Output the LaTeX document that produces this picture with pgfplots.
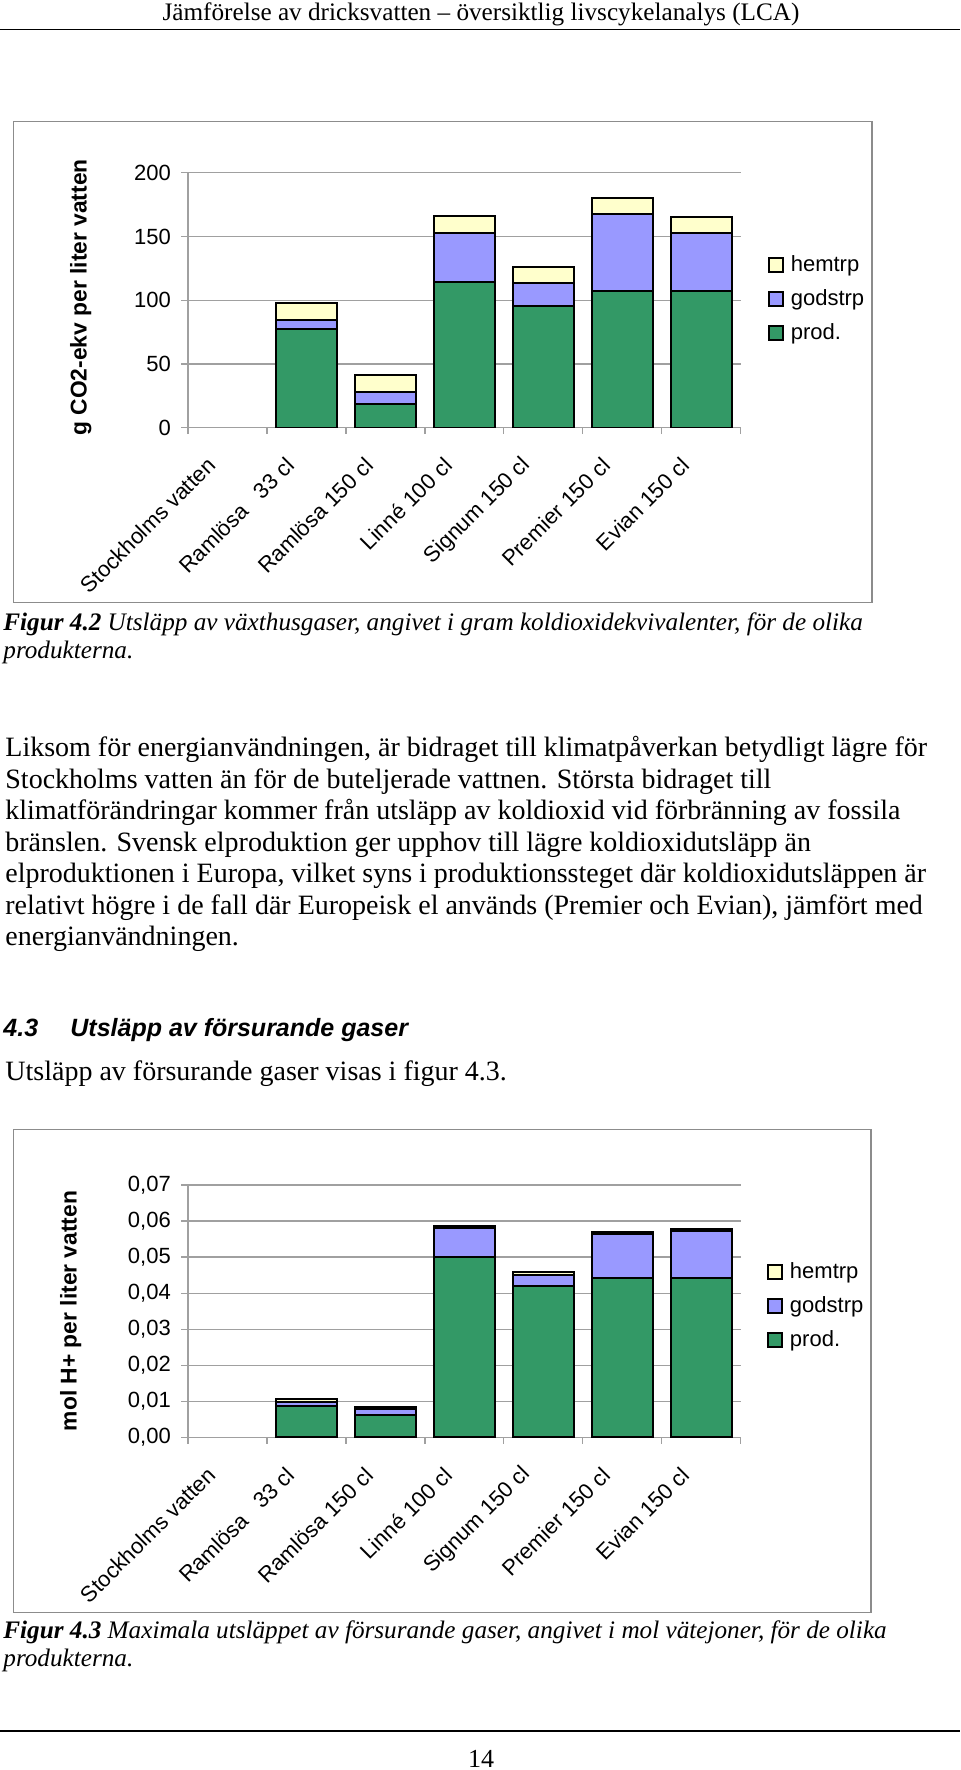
\documentclass[border=0pt]{standalone}
\usepackage{fontspec}
\setmainfont{Liberation Serif}
\setsansfont{Liberation Sans}
\usepackage{pgfplots}
\pgfplotsset{compat=1.18}

\definecolor{prodc}{RGB}{51,153,102}
\definecolor{godsc}{RGB}{153,153,255}
\definecolor{hemc}{RGB}{255,255,204}
\definecolor{gridc}{RGB}{160,160,160}
\definecolor{framec}{RGB}{140,140,140}

\newcommand{\bodyfont}{\fontsize{14}{16}\selectfont}
\newcommand{\capfont}{\fontsize{12.6}{14}\selectfont\itshape}

\pgfplotsset{
  sqlegend/.style={legend image code/.code={%
    \draw[##1,/tikz/.cd,draw=black,line width=0.9pt] (0pt,-3.5pt) rectangle (7pt,3.5pt);}},
  excel/.style={
    scale only axis, width=276.4pt,
    ybar stacked, bar width=0.765,
    xmin=-0.5, xmax=6.5, ymin=0,
    axis x line*=bottom, axis y line*=left,
    axis line style={-, draw=gridc, line width=0.6pt},
    ymajorgrids, grid style={draw=gridc, line width=0.6pt},
    tick align=outside,
    xtick={0,...,6},
    xticklabels={Stockholms vatten, Ramlösa\hspace{6pt} 33 cl, Ramlösa 150 cl,
      Linné 100 cl, Signum 150 cl, Premier 150 cl, Evian 150 cl},
    minor xtick={-0.5,0.5,...,6.5},
    major x tick style={draw=none},
    minor x tick style={draw=gridc, line width=0.6pt},
    minor tick length=3.2pt,
    ytick style={draw=gridc, line width=0.6pt},
    major tick length=3.4pt,
    tick label style={font=\fontsize{11}{13}\sffamily},
    /pgf/number format/assume math mode=true,
    scaled y ticks=false,
    xticklabel style={inner sep=0pt, yshift=-13.5pt, xshift=-8pt, rotate=45, anchor=east},
    yticklabel style={inner sep=0pt, anchor=east, xshift=-5pt},
    ylabel style={font=\fontsize{11.4}{13}\sffamily\bfseries, anchor=center},
    legend style={draw=none, fill=none, inner sep=0pt, anchor=north west,
      row sep=7.5pt, font=\fontsize{11}{13}\sffamily, nodes={inner sep=0pt},
      /tikz/every odd column/.append style={column sep=3.5pt}},
    legend cell align=left, reverse legend,
  }
}

\begin{document}
\begin{tikzpicture}
\path[use as bounding box] (0,0) rectangle (480pt,885pt);

% page header
\node[anchor=base, inner sep=0pt, font=\fontsize{12.6}{14}\selectfont] at (240.5pt,874.75pt)
  {Jämförelse av dricksvatten – översiktlig livscykelanalys (LCA)};
\draw[line width=0.75pt] (0pt,870.25pt) -- (480pt,870.25pt);

% figure 4.2
\draw[framec, line width=0.6pt] (6.75pt,583.65pt) rectangle (436pt,824.15pt);
\begin{axis}[excel,
    at={(94pt,671.15pt)}, anchor=south west, height=127.5pt,
    ymax=200, ytick={0,50,100,150,200},
    ylabel={g CO2-ekv per liter vatten},
    ylabel style={at={(axis description cs:-0.194,0.511)}},
    legend style={at={(1.0485,0.677)}}]
  \addplot[fill=prodc, draw=black, line width=1pt, sqlegend]
    coordinates {(1,77.4) (2,18.6) (3,114.5) (4,95.7) (5,106.9) (6,106.9)};
  \addplot[fill=godsc, draw=black, line width=1pt, sqlegend]
    coordinates {(1,7.3) (2,9.4) (3,38.4) (4,17.8) (5,60.7) (6,45.8)};
  \addplot[fill=hemc, draw=black, line width=1pt, sqlegend]
    coordinates {(1,13.3) (2,13.3) (3,13.1) (4,12.8) (5,12.8) (6,12.8)};
  \legend{prod., godstrp, hemtrp}
\end{axis}

\node[anchor=base west, inner sep=0pt, font=\capfont] at (1.5pt,569.5pt)
  {\textbf{Figur 4.2} Utsläpp av växthusgaser, angivet i gram koldioxidekvivalenter, för de olika};
\node[anchor=base west, inner sep=0pt, font=\capfont] at (1.5pt,555.5pt) {produkterna.};

% body text
\begin{scope}[every node/.style={anchor=base west, inner sep=0pt, font=\bodyfont}]
\node at (2.5pt,506.5pt) {Liksom för energianvändningen, är bidraget till klimatpåverkan betydligt lägre för};
\node at (2.5pt,490.75pt) {Stockholms vatten än för de buteljerade vattnen. Största bidraget till};
\node at (2.5pt,475pt) {klimatförändringar kommer från utsläpp av koldioxid vid förbränning av fossila};
\node at (2.5pt,459.25pt) {bränslen. Svensk elproduktion ger upphov till lägre koldioxidutsläpp än};
\node at (2.5pt,443.5pt) {elproduktionen i Europa, vilket syns i produktionssteget där koldioxidutsläppen är};
\node at (2.5pt,427.75pt) {relativt högre i de fall där Europeisk el används (Premier och Evian), jämfört med};
\node at (2.5pt,412pt) {energianvändningen.};
\node at (2.5pt,344.5pt) {Utsläpp av försurande gaser visas i figur 4.3.};
\end{scope}

\begin{scope}[every node/.style={anchor=base west, inner sep=0pt,
    font=\fontsize{12.5}{15}\sffamily\bfseries\itshape}]
\node at (1.5pt,366.65pt) {4.3};
\node at (35pt,366.65pt) {Utsläpp av försurande gaser};
\end{scope}

% figure 4.3
\draw[framec, line width=0.6pt] (6.75pt,78.65pt) rectangle (435.5pt,320.35pt);
\begin{axis}[excel,
    at={(94pt,166.35pt)}, anchor=south west, height=126.15pt,
    ymax=0.07, ytick={0,0.01,0.02,0.03,0.04,0.05,0.06,0.07},
    yticklabel style={/pgf/number format/.cd, fixed, fixed zerofill, precision=2, use comma},
    ylabel={mol H+ per liter vatten},
    ylabel style={at={(axis description cs:-0.212,0.5006)}},
    legend style={at={(1.047,0.695)}}]
  \addplot[fill=prodc, draw=black, line width=1pt, sqlegend]
    coordinates {(1,0.0088) (2,0.0061) (3,0.0501) (4,0.0419) (5,0.0441) (6,0.0441)};
  \addplot[fill=godsc, draw=black, line width=1pt, sqlegend]
    coordinates {(1,0.0010) (2,0.0017) (3,0.0079) (4,0.0031) (5,0.0122) (6,0.0130)};
  \addplot[fill=hemc, draw=black, line width=1pt, sqlegend]
    coordinates {(1,0.0009) (2,0.0007) (3,0.0006) (4,0.0008) (5,0.0007) (6,0.0006)};
  \legend{prod., godstrp, hemtrp}
\end{axis}

\node[anchor=base west, inner sep=0pt, font=\capfont] at (1.5pt,65.5pt)
  {\textbf{Figur 4.3} Maximala utsläppet av försurande gaser, angivet i mol vätejoner, för de olika};
\node[anchor=base west, inner sep=0pt, font=\capfont] at (1.5pt,51.5pt) {produkterna.};

% page footer
\draw[line width=1pt] (0pt,19.5pt) -- (480pt,19.5pt);
\node[anchor=base, inner sep=0pt, font=\fontsize{13}{15}\selectfont] at (240.5pt,1.5pt) {14};
\end{tikzpicture}
\end{document}
